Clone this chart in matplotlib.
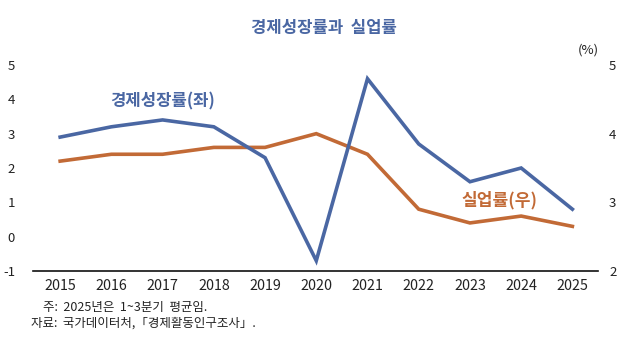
import matplotlib
matplotlib.use("Agg")
import matplotlib.pyplot as plt

plt.rcParams['font.family'] = ['Noto Sans CJK KR', 'DejaVu Sans']
plt.rcParams['axes.unicode_minus'] = False

years = [2015, 2016, 2017, 2018, 2019, 2020, 2021, 2022, 2023, 2024, 2025]
growth = [2.9, 3.2, 3.4, 3.2, 2.3, -0.7, 4.6, 2.7, 1.6, 2.0, 0.8]
unemp = [3.6, 3.7, 3.7, 3.8, 3.8, 4.0, 3.7, 2.9, 2.7, 2.8, 2.65]

blue = '#4a67a3'
orange = '#c26a36'
text_c = '#222222'

fig = plt.figure(figsize=(6.4, 3.38), dpi=100)
ax = fig.add_axes([33 / 640, 1 - 271 / 338, (598 - 33) / 640, (271 - 65) / 338])
ax2 = ax.twinx()

ax.plot(years, growth, color=blue, lw=2.6, solid_joinstyle='miter', zorder=3)
ax2.plot(years, unemp, color=orange, lw=2.6, solid_joinstyle='miter', zorder=2)
ax.set_zorder(ax2.get_zorder() + 1)
ax.patch.set_visible(False)

ax.set_xlim(2014.47, 2025.5)
ax.set_ylim(-1, 5)
ax2.set_ylim(2, 5)
ax.set_xticks(years)
ax.set_xticklabels([str(y) for y in years])
ax.set_yticks(range(-1, 6))
ax2.set_yticks(range(2, 6))

for a in (ax, ax2):
    for s in a.spines.values():
        s.set_visible(False)
ax.spines['bottom'].set_visible(True)
ax.spines['bottom'].set_color('#111111')
ax.spines['bottom'].set_linewidth(1.2)

ax.tick_params(axis='x', length=0, pad=6, labelsize=10.3, labelcolor=text_c)
ax.tick_params(axis='y', length=0, pad=13, labelsize=9.5, labelcolor=text_c)
ax2.tick_params(axis='y', length=0, pad=8, labelsize=9.5, labelcolor=text_c)

fig.text(324 / 640, 1 - 28 / 338, '경제성장률과  실업률', ha='center', va='center',
         fontsize=12, fontweight='bold', color=blue)
fig.text(588 / 640, 1 - 50 / 338, '(%)', ha='center', va='center',
         fontsize=9.5, color=text_c)

ax.text(2017.0, 3.95, '경제성장률(좌)', ha='center', va='center',
        fontsize=12, fontweight='bold', color=blue)
ax.text(2023.57, 1.05, '실업률(우)', ha='center', va='center',
        fontsize=12.3, fontweight='bold', color=orange)

fig.text(43 / 640, 1 - 307 / 338, '주:  2025년은  1~3분기  평균임.', ha='left', va='center',
         fontsize=9, color=text_c)
fig.text(31 / 640, 1 - 323 / 338, '자료:  국가데이터처,「경제활동인구조사」.', ha='left', va='center',
         fontsize=9, color=text_c)

fig.savefig('out.png', dpi=100)
